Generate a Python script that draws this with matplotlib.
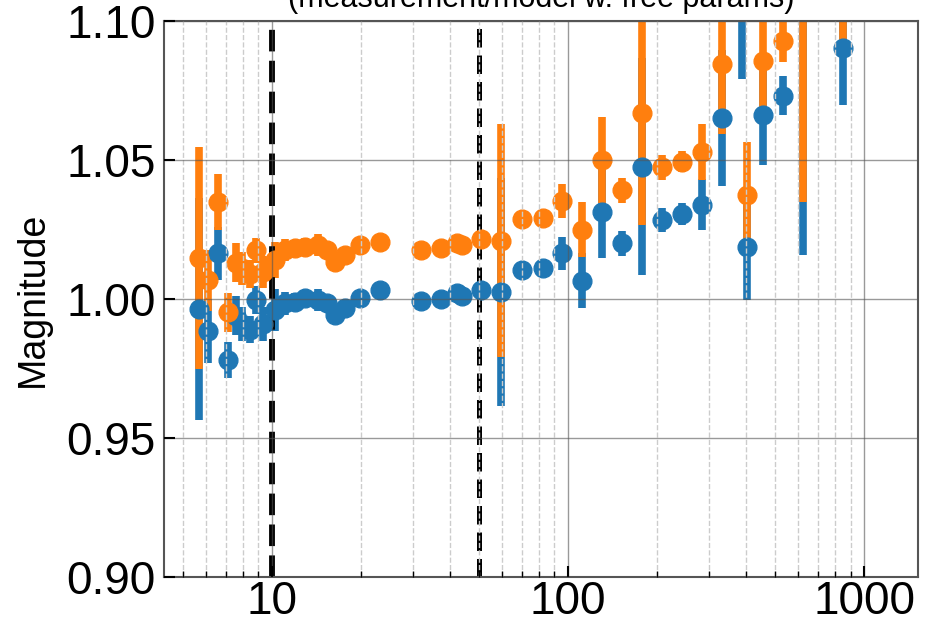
import matplotlib
matplotlib.use("Agg")
import matplotlib.pyplot as plt
from matplotlib.ticker import FixedLocator, FuncFormatter, NullFormatter, LogLocator

# frequency of each point
freq = [5.67, 6.08, 6.57, 7.10, 7.56, 7.92, 8.43, 8.83, 9.32, 10.24,
        11.06, 11.96, 12.93, 14.3, 15.34, 16.32, 17.65, 19.83, 23.17,
        31.8, 37.2, 42.3, 43.7, 50.8, 59.4, 69.8, 82.5, 95.2, 111.2,
        130.0, 151.9, 177.4, 207.4, 242.2, 282.9, 330.7, 388.0, 401.6,
        454.8, 531.4, 621.0, 847.5]

# blue series
mag_blue = [0.9964, 0.9885, 1.0165, 0.978, 0.994, 0.991, 0.989, 0.9996, 0.991, 0.996,
            0.9984, 0.999, 1.0002, 0.9996, 0.9984, 0.9942, 0.9966, 1.0002, 1.0032,
            0.9994, 0.9999, 1.002, 1.001, 1.0032, 1.0026, 1.0104, 1.011, 1.0164, 1.0065,
            1.0314, 1.020, 1.0476, 1.0284, 1.0306, 1.034, 1.065, 1.105, 1.0188,
            1.0662, 1.0731, 1.115, 1.0902]
err_blue = [0.040, 0.0115, 0.0095, 0.0065, 0.007, 0.006, 0.005, 0.005, 0.006, 0.0075,
            0.004, 0.003, 0.003, 0.004, 0.003, 0.002, 0.002, 0.002, 0.001,
            0.001, 0.001, 0.001, 0.001, 0.001, 0.041, 0.001, 0.001, 0.006, 0.0099,
            0.0168, 0.0046, 0.039, 0.0043, 0.0039, 0.0092, 0.0244, 0.026, 0.019,
            0.018, 0.007, 0.099, 0.0204]

# orange series
mag_orange = [1.0147, 1.0068, 1.035, 0.9953, 1.013, 1.011, 1.009, 1.0176, 1.0097, 1.014,
              1.0176, 1.0182, 1.0188, 1.0194, 1.0176, 1.0134, 1.0158, 1.0194, 1.0206,
              1.0176, 1.0182, 1.0203, 1.0194, 1.0216, 1.021, 1.0287, 1.029, 1.0353, 1.025,
              1.050, 1.0392, 1.0668, 1.0474, 1.0494, 1.0529, 1.0845, 1.125, 1.0374,
              1.0856, 1.0928, 1.135, 1.113]
err_orange = [0.040, 0.011, 0.010, 0.007, 0.007, 0.006, 0.005, 0.0045, 0.0057, 0.0065,
              0.004, 0.003, 0.003, 0.004, 0.003, 0.002, 0.002, 0.002, 0.001,
              0.001, 0.001, 0.001, 0.001, 0.001, 0.042, 0.001, 0.001, 0.006, 0.010,
              0.0156, 0.0045, 0.040, 0.0045, 0.0037, 0.010, 0.025, 0.025, 0.019,
              0.0164, 0.0074, 0.100, 0.0204]

cut_lines = [10, 50]
y_ticks = [0.90, 0.95, 1.00, 1.05, 1.10]
x_ticks = [10, 100, 1000]


def main():
    plt.rcParams['font.family'] = ['Liberation Sans', 'DejaVu Sans']

    fig = plt.figure(figsize=(9.25, 6.24), dpi=100)
    ax = fig.add_axes([0.1773, 0.0753, 0.8151, 0.891])

    ax.errorbar(freq, mag_blue, yerr=err_blue, fmt='o', color='#1f77b4',
                markersize=13.5, elinewidth=5.5, capsize=0)
    ax.errorbar(freq, mag_orange, yerr=err_orange, fmt='o', color='#ff7f0e',
                markersize=13.5, elinewidth=5.5, capsize=0)

    ax.axvline(cut_lines[0], color='k', ls='--', lw=4.2)
    ax.axvline(cut_lines[1], color='k', ls='--', lw=3.6)

    ax.set_xscale('log')
    ax.set_xlim(4.32, 1520)
    ax.set_ylim(0.90, 1.10)

    ax.xaxis.set_major_locator(FixedLocator(x_ticks))
    ax.xaxis.set_major_formatter(FuncFormatter(lambda v, p: '%d' % v))
    ax.xaxis.set_minor_locator(LogLocator(base=10, subs=range(2, 10)))
    ax.xaxis.set_minor_formatter(NullFormatter())
    ax.yaxis.set_major_locator(FixedLocator(y_ticks))
    ax.yaxis.set_major_formatter(FuncFormatter(lambda v, p: '%.2f' % v))

    ax.set_axisbelow(False)
    ax.grid(which='major', color='#555555', alpha=0.6, lw=1)
    ax.grid(which='minor', axis='x', color='#cccccc', ls='--', lw=1)

    ax.tick_params(which='major', direction='in', length=8, width=1.5,
                   labelsize=33)
    ax.tick_params(axis='x', which='major', pad=2)
    ax.tick_params(axis='y', which='major', pad=6)
    ax.tick_params(which='minor', direction='in', length=4, width=1)
    for s in ax.spines.values():
        s.set_color('#555555')
        s.set_linewidth(1.5)

    ax.set_ylabel('Magnitude', fontsize=27, labelpad=11)
    ax.set_title('(measurement/model w. free params)', fontsize=22, pad=10)

    fig.savefig('out.png', dpi=100)


if __name__ == '__main__':
    main()
